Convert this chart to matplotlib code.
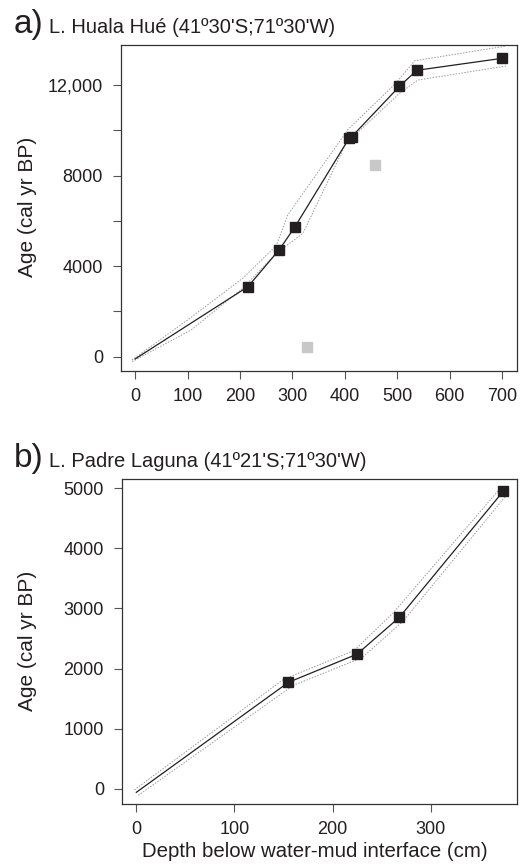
import matplotlib
matplotlib.use("Agg")
import matplotlib.pyplot as plt
import numpy as np

plt.rcParams['font.family'] = ['Liberation Sans', 'DejaVu Sans']

# panel a - L. Huala Hué
a_depth = [0, 215, 275, 304, 408, 413, 504, 537, 700]
a_age = [-100, 3090, 4730, 5710, 9650, 9720, 11940, 12650, 13180]
a_up_depth = [-6, 104, 205, 269, 291, 406, 498, 533, 707]
a_up_age = [-150, 1690, 3460, 4900, 6260, 10040, 12100, 13070, 13720]
a_lo_depth = [-6, 107, 205, 269, 320, 402, 504, 539, 707]
a_lo_age = [-220, 1180, 3020, 4560, 5450, 9420, 11630, 12220, 12840]
a_out_depth = [327, 457]
a_out_age = [440, 8450]

# panel b - L. Padre Laguna
b_depth = [0, 155, 225, 268, 374]
b_age = [-60, 1770, 2240, 2850, 4950]
b_up_depth = [-2, 150, 222, 262, 371]
b_up_age = [-20, 1820, 2300, 2930, 5000]
b_lo_depth = [2, 160, 230, 272, 378]
b_lo_age = [-110, 1720, 2180, 2790, 4900]

ink = '#231f20'
fig = plt.figure(figsize=(5.21, 8.64), dpi=100)

def style(ax):
    for s in ax.spines.values():
        s.set_color('#333333')
        s.set_linewidth(0.9)
    ax.tick_params(direction='out', length=6, width=0.8, color='#555555',
                   labelsize=13, pad=4, labelcolor=ink)
    ax.tick_params(axis='y', pad=7)
    ax.tick_params(axis='x', pad=6)

ax1 = fig.add_axes([0.2322, 0.5706, 0.760, 0.3773])
ax1.plot(a_up_depth, a_up_age, color='#9a9a9a', lw=0.7, ls=(0, (1.5, 1.5)))
ax1.plot(a_lo_depth, a_lo_age, color='#9a9a9a', lw=0.7, ls=(0, (1.5, 1.5)))
ax1.plot(a_depth, a_age, color=ink, lw=0.9)
ax1.plot(a_depth[1:], a_age[1:], 's', color=ink, ms=6.5)
ax1.plot(a_out_depth, a_out_age, 's', color='#c8c8c8', ms=6.5)
ax1.set_xlim(-27, 728)
ax1.set_ylim(-633, 13767)
ax1.set_xticks(range(0, 701, 100))
ax1.set_yticks(range(0, 12001, 2000))
ax1.set_yticklabels(['0', '', '4000', '', '8000', '', '12,000'])
style(ax1)

ax2 = fig.add_axes([0.2342, 0.0694, 0.758, 0.3762])
ax2.plot(b_up_depth, b_up_age, color='#9a9a9a', lw=0.7, ls=(0, (1.5, 1.5)))
ax2.plot(b_lo_depth, b_lo_age, color='#9a9a9a', lw=0.7, ls=(0, (1.5, 1.5)))
ax2.plot(b_depth, b_age, color=ink, lw=0.9)
ax2.plot(b_depth[1:], b_age[1:], 's', color=ink, ms=6.5)
ax2.set_xlim(-14.6, 388)
ax2.set_ylim(-255, 5155)
ax2.set_xticks(range(0, 301, 100))
ax2.set_yticks(range(0, 5001, 1000))
style(ax2)

# axis labels placed in figure coords
fig.text(0.052, 0.760, 'Age (cal yr BP)', rotation=90, fontsize=15, color=ink, ha='center', va='center')
fig.text(0.052, 0.258, 'Age (cal yr BP)', rotation=90, fontsize=15, color=ink, ha='center', va='center')
fig.text(0.605, 0.0139, 'Depth below water-mud interface (cm)', fontsize=14.7, color=ink, ha='center', va='center')

fig.text(0.027, 0.962, 'a)', fontsize=24, color=ink, va='baseline')
fig.text(0.094, 0.962, "L. Huala Hué (41º30'S;71º30'W)", fontsize=14.5, color=ink, va='baseline')
fig.text(0.027, 0.460, 'b)', fontsize=24, color=ink, va='baseline')
fig.text(0.094, 0.460, "L. Padre Laguna (41º21'S;71º30'W)", fontsize=14.5, color=ink, va='baseline')

fig.savefig('out.png', dpi=100)
